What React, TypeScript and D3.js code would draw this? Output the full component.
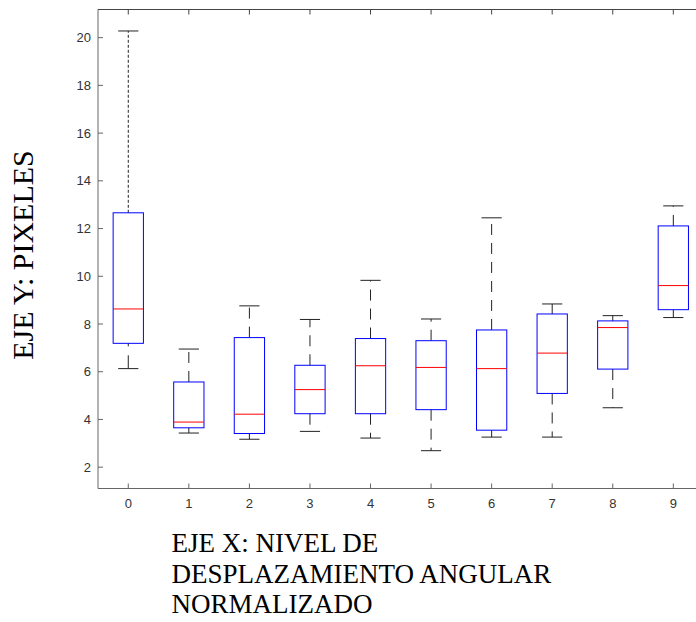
import React from 'react';
import * as d3 from 'd3';

// summary stats, one entry per level 0..9
const levels = [0, 1, 2, 3, 4, 5, 6, 7, 8, 9];
const lowerWhisker = [6.13, 3.43, 3.17, 3.5, 3.22, 2.69, 3.26, 3.26, 4.49, 8.27];
const q1 = [7.19, 3.65, 3.41, 4.24, 4.24, 4.41, 3.55, 5.09, 6.11, 8.6];
const median = [8.63, 3.89, 4.22, 5.25, 6.25, 6.18, 6.13, 6.78, 7.85, 9.61];
const q3 = [12.66, 5.57, 7.43, 6.27, 7.39, 7.3, 7.75, 8.42, 8.13, 12.11];
const upperWhisker = [20.28, 6.95, 8.76, 8.19, 9.83, 8.21, 12.45, 8.84, 8.35, 12.95];
const yTicks = [2, 4, 6, 8, 10, 12, 14, 16, 18, 20];

const width = 696;
const height = 622;
const margin = { left: 98, top: 9.5, bottom: 488.5 };

export default function App() {
  const x = d3.scaleLinear().domain([-0.5, 9.5]).range([margin.left, 703.6]);
  const y = d3.scaleLinear().domain([1.106, 21.18]).range([margin.bottom, margin.top]);
  const boxW = x(0.25) - x(0);
  const capW = x(1 / 6) - x(0);

  const axisColor = '#666';
  const tickFont = 'Arial, "Liberation Sans", sans-serif';
  const serif = '"Liberation Serif", "Times New Roman", serif';

  return (
    <svg
      width={width}
      height={height}
      style={{ position: 'absolute', left: 0, top: 0, background: '#fff' }}
    >
      {/* frame: left, bottom, top (right side falls outside the picture) */}
      <line x1={margin.left} x2={margin.left} y1={margin.top} y2={margin.bottom} stroke={axisColor} />
      <line x1={margin.left} x2={width} y1={margin.bottom} y2={margin.bottom} stroke={axisColor} />
      <line x1={margin.left} x2={width} y1={margin.top} y2={margin.top} stroke="#444" />

      {yTicks.map(t => (
        <g key={t}>
          <line x1={margin.left} x2={margin.left + 5} y1={y(t)} y2={y(t)} stroke={axisColor} />
          <text
            x={91}
            y={y(t)}
            dy="0.35em"
            textAnchor="end"
            fontFamily={tickFont}
            fontSize={13}
            fill="#333"
          >
            {t}
          </text>
        </g>
      ))}

      {levels.map(l => (
        <g key={l}>
          <line x1={x(l)} x2={x(l)} y1={margin.bottom} y2={margin.bottom - 5} stroke={axisColor} />
          <line x1={x(l)} x2={x(l)} y1={margin.top} y2={margin.top + 5} stroke="#444" />
          <text
            x={x(l)}
            y={503}
            dy="0.35em"
            textAnchor="middle"
            fontFamily={tickFont}
            fontSize={13}
            fill="#333"
          >
            {l}
          </text>
        </g>
      ))}

      {levels.map((l, i) => {
        const cx = x(l);
        return (
          <g key={'box' + l}>
            <line
              x1={cx} x2={cx} y1={y(q3[i])} y2={y(upperWhisker[i])}
              stroke="#222" strokeDasharray={i === 0 ? '3,2' : '11,8'}
            />
            <line
              x1={cx} x2={cx} y1={y(q1[i])} y2={y(lowerWhisker[i])}
              stroke="#222" strokeDasharray={i === 0 ? '3,9,30' : '11,8'}
            />
            <line x1={cx - capW} x2={cx + capW} y1={y(upperWhisker[i])} y2={y(upperWhisker[i])} stroke="#222" />
            <line x1={cx - capW} x2={cx + capW} y1={y(lowerWhisker[i])} y2={y(lowerWhisker[i])} stroke="#222" />
            <rect
              x={cx - boxW}
              y={y(q3[i])}
              width={boxW * 2}
              height={y(q1[i]) - y(q3[i])}
              fill="none"
              stroke="#0000ff"
              strokeWidth={1}
            />
            <line
              x1={cx - boxW} x2={cx + boxW} y1={y(median[i])} y2={y(median[i])}
              stroke="#ff0000"
            />
          </g>
        );
      })}

      <text
        transform="translate(33,255) rotate(-90)"
        textAnchor="middle"
        fontFamily={serif}
        fontSize={30}
        fill="#000"
      >
        EJE Y: PIXELES
      </text>

      <text fontFamily={serif} fontSize={27} fill="#000">
        <tspan x={171.5} y={552}>EJE X: NIVEL DE</tspan>
        <tspan x={171.5} y={582.5}>DESPLAZAMIENTO ANGULAR</tspan>
        <tspan x={171.5} y={613}>NORMALIZADO</tspan>
      </text>
    </svg>
  );
}
